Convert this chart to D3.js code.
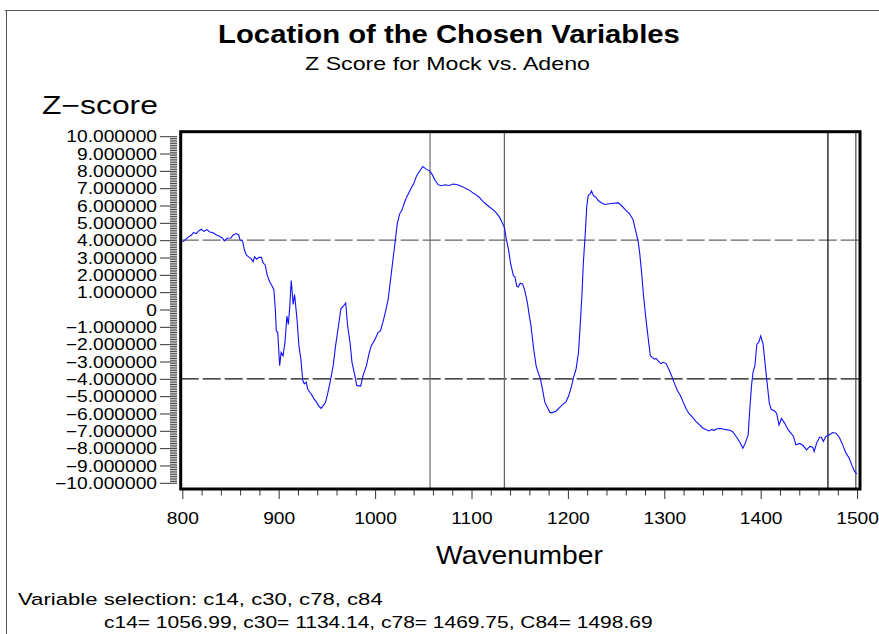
<!DOCTYPE html>
<html>
<head>
<meta charset="utf-8">
<script src="https://cdn.jsdelivr.net/npm/d3@7"></script>
<style>
  body { margin: 0; background: #fff; }
  svg { display: block; }
</style>
</head>
<body>
<div id="chart"></div>
<script>
// Datos
var wavenumber = [
  800.5, 802.5, 805.5, 809.5, 811.5, 814.5, 816.5, 819.5, 822.5, 825.5,
  828.5, 831.5, 835.5, 838.5, 841.5, 843.5, 846.5, 850.5, 852.5, 856,
  858.5, 860, 862.5, 864.5, 866.5, 868.5, 871, 873.5, 875, 877,
  879.5, 882, 884, 886, 888, 890.5, 893, 895, 896.5, 897.5,
  899, 901, 902.5, 904.5, 906.5, 908.5, 910, 911.5, 913, 915,
  916.5, 919, 921, 923, 925, 926.5, 928.5, 930, 932, 933.5,
  936.5, 939, 941.5, 944, 946, 948.5, 951, 954, 956.5, 959,
  962, 964.5, 967, 969.5, 971.5, 974, 976, 979, 981, 985,
  987.5, 991, 994, 996, 1000, 1003, 1005.5, 1008, 1010.5, 1013.5,
  1016, 1018.5, 1021, 1023, 1025.5, 1028, 1030.5, 1033.5, 1037, 1040.5,
  1043, 1046, 1049.5, 1053, 1056.5, 1059, 1062, 1065.5, 1069, 1072.5,
  1076.5, 1081, 1085.5, 1090.5, 1095, 1098.5, 1102, 1103.5, 1108, 1111.5,
  1115.5, 1119, 1122.5, 1126, 1129, 1131.5, 1134, 1136, 1138.5, 1140.5,
  1143.5, 1145, 1147, 1148.5, 1150.5, 1153, 1155.5, 1158, 1160, 1161.5,
  1162.5, 1164.5, 1167, 1169, 1171.5, 1173.5, 1176, 1178.5, 1181.5, 1184,
  1187.5, 1191, 1194.5, 1198, 1201, 1203.5, 1205.5, 1208.5, 1211, 1212.5,
  1214.5, 1216, 1218, 1219.5, 1221, 1223, 1224.5, 1226.5, 1229, 1231.5,
  1235, 1238.5, 1243, 1247, 1252.5, 1255.5, 1260.5, 1264, 1267.5, 1270.5,
  1273, 1274.5, 1276.5, 1278.5, 1281, 1283, 1285.5, 1287.5, 1289.5, 1291.5,
  1293.5, 1296.5, 1299, 1302, 1304.5, 1307.5, 1310, 1313.5, 1316.5, 1319.5,
  1322.5, 1325.5, 1329, 1332.5, 1336, 1339.5, 1343, 1346.5, 1349, 1351.5,
  1354, 1358.5, 1361, 1364, 1368, 1371, 1374.5, 1378, 1381.5, 1384,
  1387, 1388.5, 1390.5, 1392, 1394, 1396, 1398, 1400, 1402.5, 1406,
  1409, 1411, 1414.5, 1416.5, 1419, 1421.5, 1425, 1428.5, 1432, 1434,
  1436.5, 1440.5, 1444, 1447.5, 1451, 1454, 1455.5, 1458, 1461, 1463,
  1465, 1467.5, 1470.5, 1472.5, 1474.5, 1478, 1481.5, 1485, 1488.5, 1492,
  1494.5, 1497, 1499.5
];
var zScore = [
  3.9, 4.0, 4.15, 4.3, 4.44, 4.38, 4.51, 4.63, 4.51, 4.61,
  4.47, 4.44, 4.3, 4.23, 4.13, 3.96, 4.11, 4.13, 4.29, 4.38,
  4.3, 4.0, 3.96, 3.43, 3.14, 3.05, 2.95, 2.76, 3.05, 2.9,
  3.01, 3.01, 2.67, 2.57, 2.0, 1.62, 1.37, 1.14, 0, -1.24,
  -1.33, -3.24, -2.48, -2.67, -1.9, -0.38, -0.86, 0.19, 1.67, 0.29,
  0.86, -0.57, -2.1, -2.86, -4.1, -4.29, -4.19, -4.57, -4.76, -4.86,
  -5.14, -5.33, -5.56, -5.71, -5.56, -5.37, -4.8, -4.0, -3.24, -2.1,
  -0.95, 0.04, 0.19, 0.38, -0.95, -1.9, -3.05, -3.81, -4.38, -4.42,
  -3.81, -3.24, -2.48, -2.1, -1.71, -1.33, -1.24, -0.76, -0.19, 0.57,
  1.71, 2.86, 4.0, 4.95, 5.52, 5.75, 6.19, 6.57, 6.95, 7.33,
  7.71, 7.96, 8.25, 8.1, 8.0, 7.81, 7.47, 7.2, 7.14, 7.2,
  7.16, 7.24, 7.2, 7.09, 6.95, 6.86, 6.7, 6.67, 6.48, 6.25,
  6.06, 5.9, 5.75, 5.56, 5.33, 5.05, 4.76, 4.1, 3.43, 2.67,
  1.94, 1.9, 1.33, 1.3, 1.52, 1.48, 1.05, 0.38, -0.38, -0.86,
  -1.33, -2.29, -3.24, -3.62, -4.0, -4.57, -5.33, -5.62, -5.95, -5.95,
  -5.87, -5.68, -5.49, -5.33, -4.95, -4.48, -4.0, -3.43, -2.48, -1.14,
  0.76, 2.67, 4.38, 5.9, 6.57, 6.67, 6.85, 6.57, 6.48, 6.29,
  6.15, 6.06, 6.1, 6.13, 6.15, 6.0, 5.71, 5.52, 5.2, 4.5,
  3.9, 3.24, 2.1, 0.76, -0.57, -1.52, -2.67, -2.76, -2.86, -2.82,
  -2.97, -3.12, -3.05, -3.12, -3.43, -3.81, -4.19, -4.67, -4.95, -5.33,
  -5.71, -6.0, -6.19, -6.44, -6.63, -6.82, -6.93, -7.01, -6.93, -6.97,
  -6.9, -6.86, -6.9, -6.93, -6.97, -7.05, -7.33, -7.62, -8.0, -7.71,
  -7.24, -5.9, -4.38, -3.62, -3.24, -2.0, -1.9, -1.52, -2.0, -3.9,
  -5.43, -5.77, -5.85, -6.0, -6.67, -6.29, -6.57, -6.95, -7.18, -7.33,
  -7.81, -7.73, -7.85, -8.1, -7.9, -7.94, -8.2, -7.71, -7.37, -7.37,
  -7.62, -7.33, -7.26, -7.18, -7.1, -7.14, -7.37, -7.81, -8.29, -8.6,
  -8.98, -9.3, -9.5
];

var xTickValues = [800, 900, 1000, 1100, 1200, 1300, 1400, 1500];
var yTickValues = d3.range(-10, 11, 1);
var zThresholds = [4, -4];
var selNames = ["c14", "c30", "c78", "c84"];
var selLabels = ["c14", "c30", "c78", "C84"];
var selWavenumbers = [1056.99, 1134.14, 1469.75, 1498.69];

var width = 879;
var height = 634;
var FONT = "'Liberation Sans', Arial, Helvetica, sans-serif";
var tickStretch = 1.2;

var svg = d3.select("#chart")
    .append("svg")
    .attr("width", width)
    .attr("height", height);

// borde exterior
svg.append("line").attr("x1", 5).attr("x2", width).attr("y1", 10.5).attr("y2", 10.5)
    .attr("stroke", "#555");
svg.append("line").attr("x1", 6.5).attr("x2", 6.5).attr("y1", 10).attr("y2", height)
    .attr("stroke", "#555");

var x = d3.scaleLinear().domain([800, 1500]).range([182.3, 857.1]);
var y = d3.scaleLinear().domain([-10, 10]).range([482.8, 136.2]);

var frame = { left: 180.7, right: 860, top: 131.7, bottom: 489 };

// Texto con ancho ajustado (la fuente original es mas ancha)
function addText(str, px, py, size, weight, anchor, targetWidth) {
    var t = svg.append("text")
        .text(str)
        .style("font-family", FONT)
        .style("font-size", size + "px")
        .style("font-weight", weight)
        .attr("text-anchor", anchor);
    var w = t.node().getComputedTextLength();
    var k = targetWidth ? targetWidth / w : 1;
    t.attr("transform", "translate(" + px + "," + py + ") scale(" + k + ",1)");
    return t;
}

addText("Location of the Chosen Variables", 449, 43, 26, "bold", "middle", 462);
addText("Z Score for Mock vs. Adeno", 447.5, 70, 17.5, "normal", "middle", 285);
addText("Z\u2212score", 42, 114, 25, "normal", "start", 116);
addText("Wavenumber", 519.5, 564, 25, "normal", "middle", 167);
addText("Variable selection: " + selNames.join(",  "), 18, 605, 17, "normal", "start", 365);
addText(selLabels.map(function(n, i) { return n + "= " + selWavenumbers[i]; }).join(",  "),
    104, 628, 17, "normal", "start", 549);

// Eje Y
var yFormat = function(d) { return d === 0 ? "0" : d3.format(".6f")(d); };
var yMinor = d3.range(-100, 101).filter(function(v) { return v % 10 !== 0; })
    .map(function(v) { return v / 10; });

var yMinorAxis = svg.append("g")
    .attr("transform", "translate(177,0)")
    .call(d3.axisLeft(y).tickValues(yMinor).tickSize(7).tickFormat(""));
yMinorAxis.select(".domain").remove();
yMinorAxis.selectAll("line").attr("stroke", "#444");

var yAxis = svg.append("g")
    .attr("transform", "translate(177,0)")
    .call(d3.axisLeft(y).tickValues(yTickValues).tickSize(17).tickFormat(yFormat));
yAxis.select(".domain").remove();
yAxis.selectAll("line").attr("stroke", "#333");
yAxis.selectAll("text")
    .style("font-family", FONT)
    .style("font-size", "16px")
    .attr("fill", "#000")
    .attr("x", -20 / tickStretch)
    .attr("dy", "0.36em")
    .attr("transform", "scale(" + tickStretch + ",1)");

// Eje X
var xMinor = d3.range(800, 1501, 20).filter(function(v) { return v % 100 !== 0; });

var xMinorAxis = svg.append("g")
    .attr("transform", "translate(0," + frame.bottom + ")")
    .call(d3.axisBottom(x).tickValues(xMinor).tickSize(6.5).tickFormat(""));
xMinorAxis.select(".domain").remove();
xMinorAxis.selectAll("line").attr("stroke", "#333");

var xAxis = svg.append("g")
    .attr("transform", "translate(0," + frame.bottom + ")")
    .call(d3.axisBottom(x).tickValues(xTickValues).tickSize(10).tickFormat(d3.format("d")));
xAxis.select(".domain").remove();
xAxis.selectAll("line").attr("stroke", "#333");
xAxis.selectAll("text")
    .style("font-family", FONT)
    .style("font-size", "16px")
    .attr("fill", "#000")
    .attr("y", 35)
    .attr("dy", 0)
    .attr("transform", "scale(" + tickStretch + ",1)");

// Lineas de referencia horizontales (umbrales)
var thresholdColors = ["#666", "#111"];
svg.selectAll(".threshold")
    .data(zThresholds)
    .enter()
    .append("line")
    .attr("class", "threshold")
    .attr("x1", frame.left)
    .attr("x2", frame.right)
    .attr("y1", function(d) { return y(d); })
    .attr("y2", function(d) { return y(d); })
    .attr("stroke", function(d, i) { return thresholdColors[i]; })
    .attr("stroke-width", 1.2)
    .attr("stroke-dasharray", "18,4");

// Lineas verticales de las variables elegidas
var selColors = ["#777", "#666", "#111", "#555"];
svg.selectAll(".selvar")
    .data(selWavenumbers)
    .enter()
    .append("line")
    .attr("class", "selvar")
    .attr("x1", function(d) { return x(d); })
    .attr("x2", function(d) { return x(d); })
    .attr("y1", frame.top)
    .attr("y2", frame.bottom)
    .attr("stroke", function(d, i) { return selColors[i]; })
    .attr("stroke-width", 1.3);

// Curva Z-score
var points = wavenumber.map(function(w, i) { return { w: w, z: zScore[i] }; });
var line = d3.line()
    .x(function(d) { return x(d.w); })
    .y(function(d) { return y(d.z); });

svg.append("path")
    .datum(points)
    .attr("d", line)
    .attr("fill", "none")
    .attr("stroke", "#1010ff")
    .attr("stroke-width", 1.1);

// Marco
svg.append("rect")
    .attr("x", frame.left)
    .attr("y", frame.top)
    .attr("width", frame.right - frame.left)
    .attr("height", frame.bottom - frame.top)
    .attr("fill", "none")
    .attr("stroke", "#000")
    .attr("stroke-width", 3);
</script>
</body>
</html>
